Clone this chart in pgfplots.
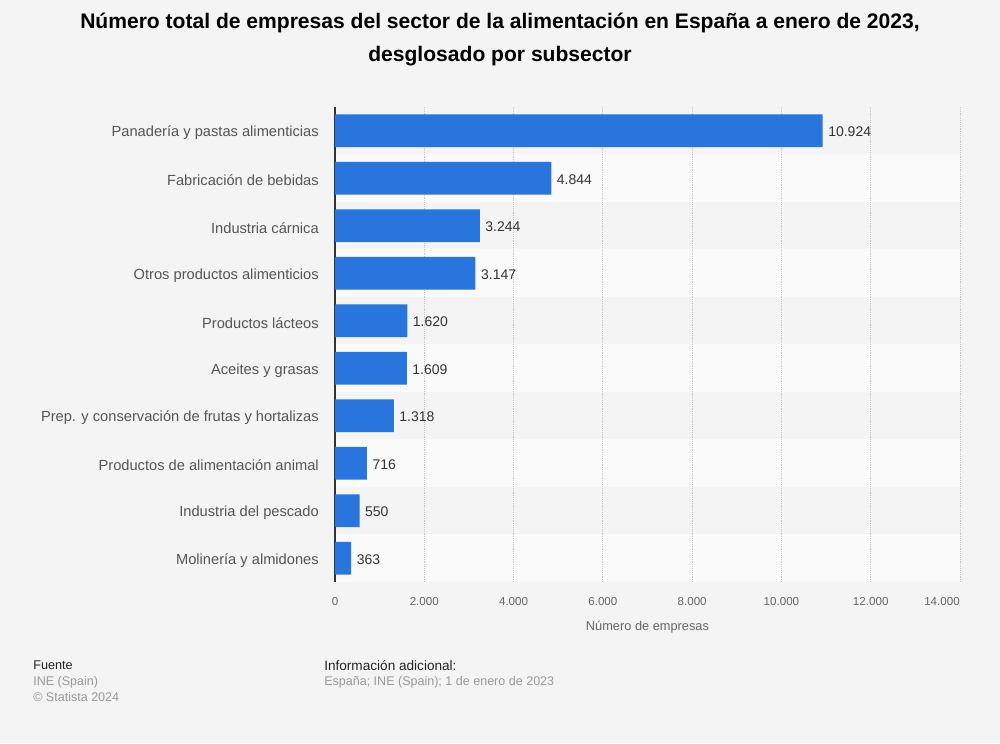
\documentclass[border=0pt]{standalone}
\usepackage{fontspec}
\setmainfont{Liberation Sans}
\usepackage{pgfplots}
\pgfplotsset{compat=1.18}
\definecolor{bg}{HTML}{F4F4F4}
\definecolor{stripe}{HTML}{FAFAFA}
\definecolor{barblue}{HTML}{2876DD}
\definecolor{cattext}{HTML}{555555}
\definecolor{valtext}{HTML}{333333}
\definecolor{foottext}{HTML}{222222}
\definecolor{ticktext}{HTML}{666666}
\definecolor{srctext}{HTML}{999999}
\begin{document}
\begin{tikzpicture}
\fill[bg] (0,0) rectangle (750pt,557.25pt);
\foreach \k in {1,3,5,7,9} {\fill[stripe] (251.25pt,{477pt-35.625pt*(\k+1)}) rectangle (720pt,{477pt-35.625pt*\k});}
\node[font=\fontsize{15.8}{18}\selectfont\bfseries, anchor=base, inner sep=0pt] at (375pt,535.5pt) {Número total de empresas del sector de la alimentación en España a enero de 2023,};
\node[font=\fontsize{15.8}{18}\selectfont\bfseries, anchor=base, inner sep=0pt] at (375pt,510.75pt) {desglosado por subsector};
\begin{axis}[
  at={(251.25pt,120.75pt)}, anchor=south west,
  scale only axis, width=468.75pt, height=356.25pt,
  xmin=0, xmax=14000, ymin=-0.5, ymax=9.5,
  y dir=reverse, enlargelimits=false, clip=false,
  xbar, bar width=0.69,
  axis x line*=bottom, axis y line*=left,
  x axis line style={draw=none},
  y axis line style={draw=black!80, line width=1pt},
  major tick length=0pt,
  xtick={0,2000,...,12000},
  extra x ticks={14000},
  extra x tick style={grid=major, xticklabel style={anchor=north east}},
  scaled x ticks=false,
  /pgf/number format/1000 sep={.},
  /pgf/number format/assume math mode=true,
  xmajorgrids, grid style={densely dotted, draw=gray!45, line width=0.6pt},
  ytick={0,...,9},
  yticklabels={Panadería y pastas alimenticias, Fabricación de bebidas, Industria cárnica, Otros productos alimenticios, Productos lácteos, Aceites y grasas, Prep. y conservación de frutas y hortalizas, Productos de alimentación animal, Industria del pescado, Molinería y almidones},
  yticklabel style={font=\fontsize{11}{13}\selectfont, text=cattext, inner sep=0pt, xshift=-12pt, yshift=-1.5pt},
  xticklabel style={font=\fontsize{8.7}{10}\selectfont, text=ticktext, inner sep=0pt, yshift=-11.5pt},
  xlabel={Número de empresas},
  xlabel style={at={(axis description cs:0.5,0)}, anchor=center, yshift=-33.5pt, font=\fontsize{9.6}{11}\selectfont, text=ticktext},
  nodes near coords,
  every node near coord/.append style={font=\fontsize{10.5}{12}\selectfont, text=valtext, anchor=west, inner sep=0pt, xshift=4pt, yshift=-0.8pt},
]
\addplot[fill=barblue, draw=none] coordinates {(10924,0) (4844,1) (3244,2) (3147,3) (1620,4) (1609,5) (1318,6) (716,7) (550,8) (363,9)};
\end{axis}
\node[font=\fontsize{9.5}{11}\selectfont, text=foottext, anchor=west, inner sep=0pt] at (24.75pt,{(743-665.5)*0.75pt}) {Fuente};
\node[font=\fontsize{9.4}{11}\selectfont, text=srctext, anchor=west, inner sep=0pt] at (24.75pt,{(743-682)*0.75pt}) {INE (Spain)};
\node[font=\fontsize{9.4}{11}\selectfont, text=srctext, anchor=west, inner sep=0pt] at (24.75pt,{(743-697)*0.75pt}) {© Statista 2024};
\node[font=\fontsize{10.2}{12}\selectfont, text=foottext, anchor=west, inner sep=0pt] at (243pt,{(743-665.5)*0.75pt}) {Información adicional:};
\node[font=\fontsize{9.4}{11}\selectfont, text=srctext, anchor=west, inner sep=0pt] at (243pt,{(743-682)*0.75pt}) {España; INE (Spain); 1 de enero de 2023};
\end{tikzpicture}
\end{document}
